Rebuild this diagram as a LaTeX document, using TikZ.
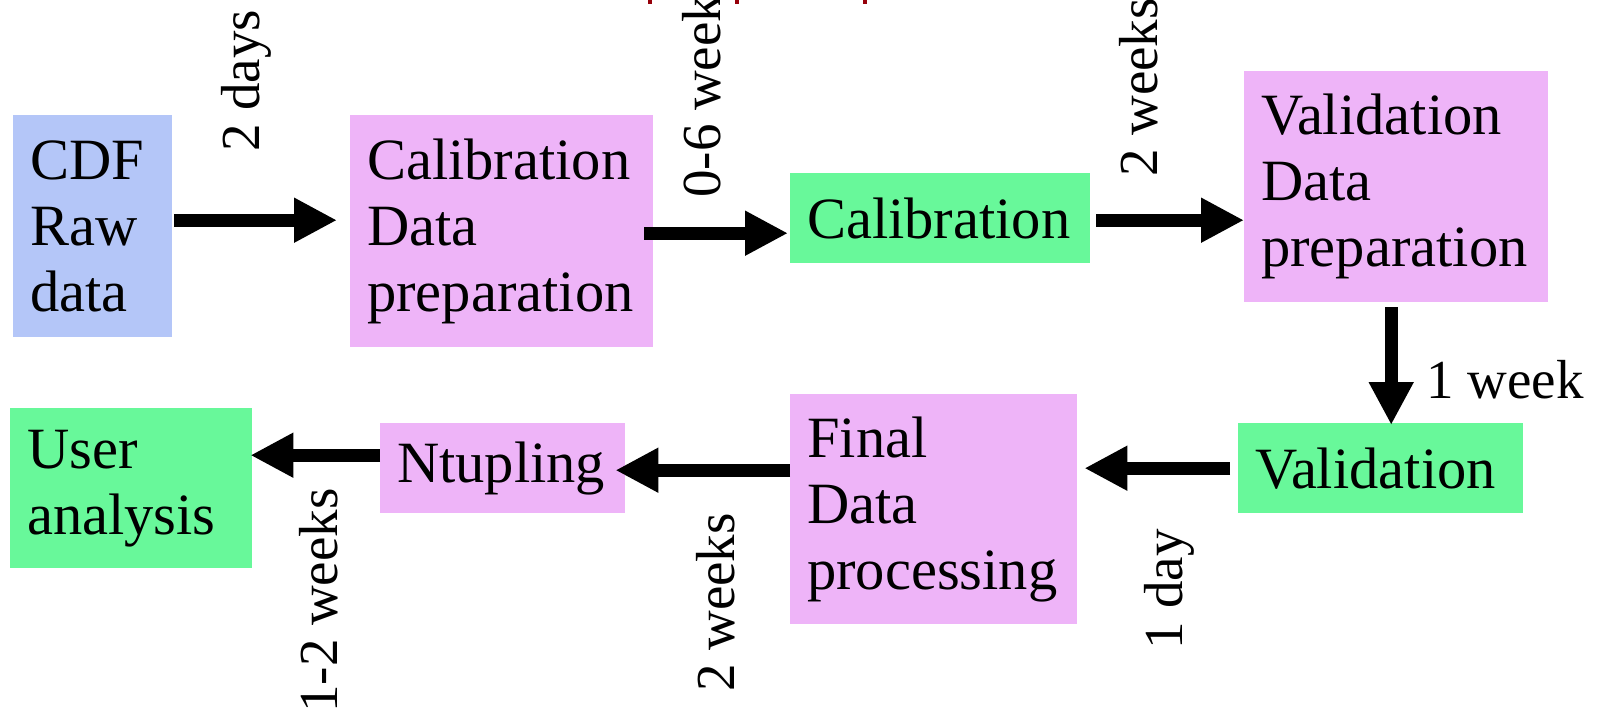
\documentclass[tikz,border=0pt]{standalone}
\usepackage{fontspec}
\setmainfont{Liberation Serif}
\newfontfamily\timesface{Liberation Serif}
\usetikzlibrary{arrows.meta}
\definecolor{rawblue}{RGB}{180,198,248}
\definecolor{prepink}{RGB}{238,180,248}
\definecolor{stagegreen}{RGB}{104,248,154}
\definecolor{titlered}{RGB}{150,0,10}
\begin{document}
\begin{tikzpicture}[x=1pt,y=-1pt,
  box/.style={inner xsep=17pt, inner ysep=0pt, align=left, anchor=north west,
              font=\timesface\fontsize{58.5}{66}\selectfont},
  lbl/.style={inner sep=0pt, font=\timesface\fontsize{55}{64}\selectfont},
  flow/.style={line width=13pt, -{Triangle[length=43pt,width=42pt]}}]
\useasboundingbox (0,0) rectangle (1597,718);

% remains of the title line, cut by the top edge
\fill[titlered] (648,0) rectangle (652,4);
\fill[titlered] (735,0) rectangle (739,4);
\fill[titlered] (863,0) rectangle (867,4);

% processing stages
\node[box, fill=rawblue,    text width=125pt, minimum height=222pt] (raw)     at (13,115)   {CDF\\Raw\\data};
\node[box, fill=prepink,    text width=269pt, minimum height=232pt] (calprep) at (350,115)  {Calibration\\Data\\preparation};
\node[box, fill=stagegreen, text width=266pt, minimum height=90pt]  (cal)     at (790,173)  {Calibration};
\node[box, fill=prepink,    text width=270pt, minimum height=231pt] (valprep) at (1244,71)  {Validation\\Data\\preparation};
\node[box, fill=stagegreen, text width=251pt, minimum height=90pt]  (val)     at (1238,423) {Validation};
\node[box, fill=prepink,    text width=253pt, minimum height=230pt] (final)   at (790,394)  {Final\\Data\\processing};
\node[box, fill=prepink,    text width=211pt, minimum height=90pt]  (ntup)    at (380,423)  {Ntupling};
\node[box, fill=stagegreen, text width=208pt, minimum height=160pt] (user)    at (10,408)   {User\\analysis};

% start points of the connectors
\coordinate (s1) at ([shift={(2pt,6pt)}]raw.east);
\coordinate (s2) at ([shift={(-9pt,-2pt)}]calprep.east);
\coordinate (s3) at ([shift={(6pt,-2pt)}]cal.east);
\coordinate (s4) at ([shift={(-5pt,-5pt)}]valprep.south);
\coordinate (s5) at ([shift={(-8pt,0pt)}]val.west);
\coordinate (s6) at ([shift={(0pt,39pt)}]final.west);
\coordinate (s7) at ([shift={(0pt,13pt)}]ntup.west);

% connectors
\draw[flow, shorten >=13pt] (s1) -- (s1 -| calprep.west);
\draw[flow, shorten >=2pt]  (s2) -- (s2 -| cal.west);
\draw[flow]                 (s3) -- (s3 -| valprep.west);
\draw[flow, shorten >=-2pt] (s4) -- (s4 |- val.north);
\draw[flow, shorten >=7pt]  (s5) -- (s5 -| final.east);
\draw[flow, shorten >=-10pt](s6) -- (s6 -| ntup.east);
\draw[flow, shorten >=-2pt] (s7) -- (s7 -| user.east);

% durations
\node[lbl, rotate=90, anchor=west] (d1) at (246,152)  {2 days};
\node[lbl, rotate=90, anchor=west] (d2) at (702,198)  {0-6 weeks};
\node[lbl, rotate=90, anchor=west] (d3) at (1139,177) {2 weeks};
\node[lbl, anchor=base west]       (d4) at (1426,398) {1 week};
\node[lbl, rotate=90, anchor=west] (d5) at (1169,650) {1 day};
\node[lbl, rotate=90, anchor=west] (d6) at (716,692)  {2 weeks};
\node[lbl, rotate=90, anchor=west] (d7) at (319,713)  {1-2 weeks};
\end{tikzpicture}
\end{document}
